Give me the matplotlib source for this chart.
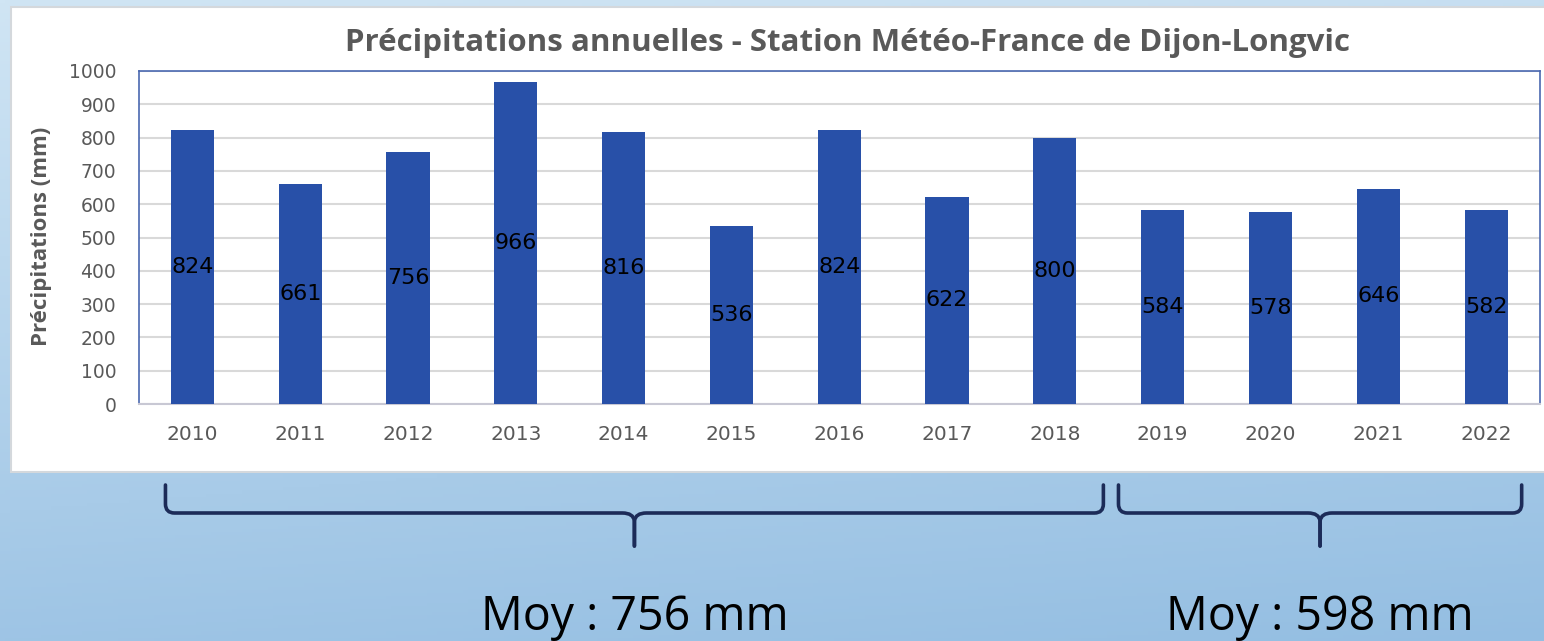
import numpy as np
import matplotlib
matplotlib.use("Agg")
import matplotlib.pyplot as plt
from matplotlib.path import Path
from matplotlib.patches import PathPatch, Rectangle

# ---- data ----
years = ["2010", "2011", "2012", "2013", "2014", "2015", "2016",
         "2017", "2018", "2019", "2020", "2021", "2022"]
precip = [824, 661, 756, 966, 816, 536, 824, 622, 800, 584, 578, 646, 582]
y_ticks = [0, 100, 200, 300, 400, 500, 600, 700, 800, 900, 1000]
title = "Précipitations annuelles - Station Météo-France de Dijon-Longvic"
ylabel = "Précipitations (mm)"
avg_labels = ["Moy : 756 mm", "Moy : 598 mm"]
# brace spans in category units (left, right)
brace_spans = [(-0.25, 8.45), (8.59, 12.33)]

W, H = 1544, 641
fig = plt.figure(figsize=(W / 100, H / 100), dpi=100)

# ---- background overlay (pixel coords) ----
bg = fig.add_axes([0, 0, 1, 1], zorder=0)
bg.set_xlim(0, W)
bg.set_ylim(H, 0)
bg.axis("off")
top = np.array([208, 229, 244]) / 255
bot = np.array([148, 190, 226]) / 255
yy = np.linspace(0, 1, 200)[:, None]
xx = np.linspace(0, 1, 300)[None, :]
t = np.clip(yy * 1.0 + xx * 0.2, 0, 1.2) / 1.2
img = top[None, None, :] * (1 - t[..., None]) + bot[None, None, :] * t[..., None]
bg.imshow(img, extent=[0, W, H, 0], aspect="auto", zorder=0)
bg.add_patch(Rectangle((11, 7), W, 465, facecolor="white",
                       edgecolor="#d4d8dc", linewidth=1.5, zorder=1))

# ---- main chart ----
ax = fig.add_axes([138.5 / W, 1 - 404 / H, (1540 - 138.5) / W, (404 - 71) / H], zorder=2)
x = np.arange(len(years))
bars = ax.bar(x, precip, width=0.4, color="#2850a8", zorder=3)
ax.set_xlim(-0.5, len(years) - 0.5)
ax.set_ylim(0, 1000)
ax.set_yticks(y_ticks)
ax.set_xticks(x)
ax.set_xticklabels(years)
ax.grid(axis="y", color="#d9d9d9", linewidth=1.5, zorder=0)
ax.set_axisbelow(True)
for s in ["left", "top", "right"]:
    ax.spines[s].set_color("#4a68b0")
    ax.spines[s].set_linewidth(1.2)
ax.spines["bottom"].set_color("#c8c8d4")
ax.spines["bottom"].set_linewidth(1.5)
ax.tick_params(axis="y", length=0, labelsize=13.5, labelcolor="#595959", pad=16)
ax.tick_params(axis="x", length=0, labelsize=14.5, labelcolor="#595959", pad=15)

for b, v in zip(bars, precip):
    ax.text(b.get_x() + b.get_width() / 2, v / 2, str(v), ha="center",
            va="center", fontsize=16, color="black", zorder=4)

fig.text(42 / W, 1 - 236 / H, ylabel, rotation=90, ha="center", va="center",
         fontsize=16, fontweight="bold", color="#595959", family="Open Sans")
fig.text(848 / W, 1 - 43 / H, title, ha="center", va="center",
         fontsize=22.5, fontweight="bold", color="#595959", family="Open Sans")

# ---- braces and averages ----
fig.canvas.draw()
navy = "#1c2b58"
y_top, y_line, y_tip, r = 485, 513, 546, 9
for (x0d, x1d), lab in zip(brace_spans, avg_labels):
    x0 = ax.transData.transform((x0d, 0))[0]
    x1 = ax.transData.transform((x1d, 0))[0]
    xm = (x0 + x1) / 2
    codes = [Path.MOVETO, Path.LINETO, Path.CURVE3, Path.CURVE3, Path.LINETO,
             Path.CURVE3, Path.CURVE3, Path.LINETO]
    for sgn, xe in ((1, x0), (-1, x1)):
        vv = [
            (xe, y_top), (xe, y_line - r),
            (xe, y_line), (xe + sgn * r, y_line),
            (xm - sgn * 12, y_line),
            (xm - sgn * 1, y_line), (xm, y_line + 8),
            (xm, y_tip),
        ]
        bg.add_patch(PathPatch(Path(vv, codes), facecolor="none",
                               edgecolor=navy, linewidth=2.6,
                               capstyle="round", joinstyle="round", zorder=3))
    bg.text(xm, 617, lab, ha="center", va="center", fontsize=33.5,
            color="black", family="Open Sans", zorder=3)

fig.savefig("out.png", dpi=100)
